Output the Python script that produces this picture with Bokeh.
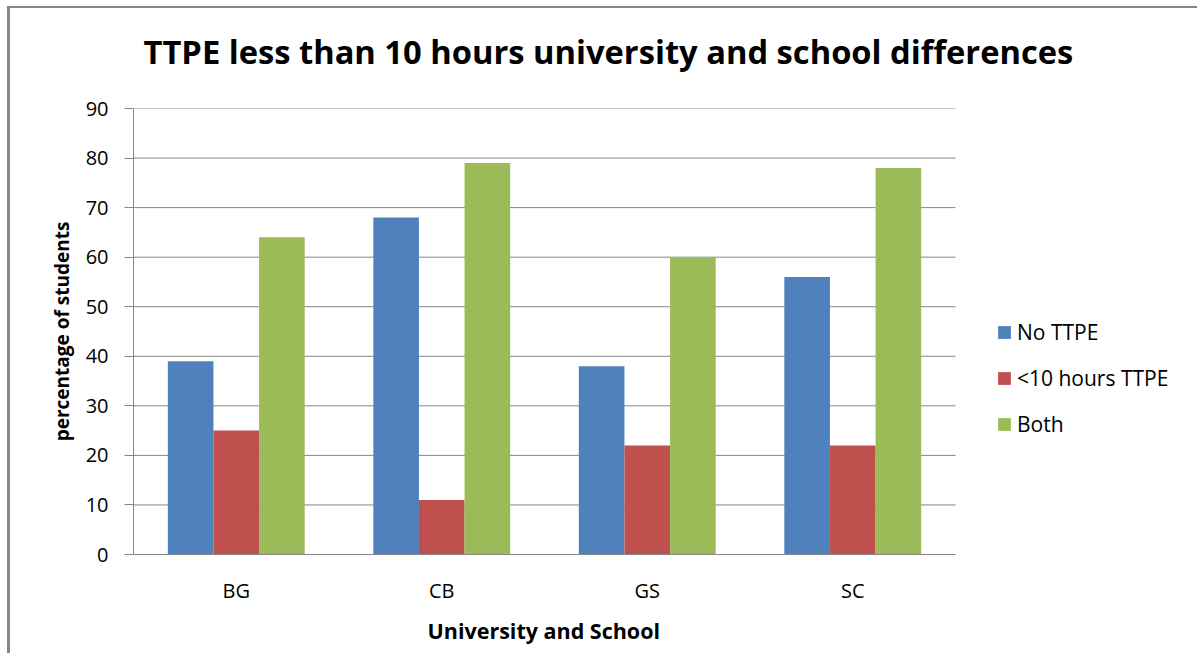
from bokeh.plotting import figure
from bokeh.models import Range1d, Legend, LegendItem, ColumnDataSource, FixedTicker, Title
from bokeh.embed import file_html
from bokeh.resources import INLINE

categories = ["BG", "CB", "GS", "SC"]
series_names = ["No TTPE", "<10 hours TTPE", "Both"]
no_ttpe = [39, 68, 38, 56]
under_10 = [25, 11, 22, 22]
both = [64, 79, 60, 78]
y_ticks = [0, 10, 20, 30, 40, 50, 60, 70, 80, 90]
colors = ["#4F81BD", "#C0504D", "#9BBB59"]
chart_title = "TTPE less than 10 hours university and school differences"

FONT = "Open Sans"
GRID = "#868686"

# outer box offset (border drawn with CSS)
OX, OY = 10, 8
W, H = 1190, 647
LEFT, TOP, RIGHT_EDGE, BOTTOM_EDGE = 133 - OX, 107 - OY, 955 - OX, 554 - OY
n = len(categories)
x_end = n * (W - LEFT) / (RIGHT_EDGE - LEFT)

centers = [i + 0.5 for i in range(n)]
bw = 0.222
src = ColumnDataSource(dict(
    xa=[c - bw for c in centers], xb=centers, xc=[c + bw for c in centers],
    a=no_ttpe, b=under_10, c=both))

p = figure(x_range=Range1d(0, x_end), y_range=Range1d(0, 90),
           width=W, height=H, output_backend="svg", toolbar_location=None,
           min_border_left=LEFT, min_border_right=0, min_border_top=TOP,
           min_border_bottom=H - BOTTOM_EDGE, title=None)
p.styles = {"margin-left": "7px", "margin-top": "6px",
            "border-left": "3px solid #868686", "border-top": "2px solid #868686"}

# horizontal gridlines only across the category area
p.segment(x0=0, x1=n, y0=y_ticks, y1=y_ticks, line_color=GRID, line_width=1)

r1 = p.vbar(x="xa", top="a", width=bw, source=src, color=colors[0], line_color=None)
r2 = p.vbar(x="xb", top="b", width=bw, source=src, color=colors[1], line_color=None)
r3 = p.vbar(x="xc", top="c", width=bw, source=src, color=colors[2], line_color=None)

# spacer between frame and title (closest to the frame)
p.add_layout(Title(text=" ", text_font_size="1px", standoff=14), "above")
p.add_layout(Title(text=chart_title, align="left", offset=10,
                   text_font=FONT, text_font_size="32.7px", text_font_style="bold",
                   text_color="black", standoff=36), "above")

p.outline_line_color = None
p.xgrid.grid_line_color = None
p.ygrid.grid_line_color = None

p.yaxis.ticker = FixedTicker(ticks=y_ticks)
p.yaxis.axis_line_color = GRID
p.yaxis.major_tick_line_color = GRID
p.yaxis.major_tick_out = 9
p.yaxis.major_tick_in = 0
p.yaxis.minor_tick_line_color = None
p.yaxis.major_label_text_font = FONT
p.yaxis.major_label_text_font_size = "20px"
p.yaxis.major_label_text_color = "black"
p.yaxis.major_label_standoff = 16
p.yaxis.axis_label = "percentage of students"
p.yaxis.axis_label_text_font = FONT
p.yaxis.axis_label_text_font_size = "19px"
p.yaxis.axis_label_text_font_style = "bold"
p.yaxis.axis_label_text_color = "black"
p.yaxis.axis_label_standoff = 8

p.xaxis.ticker = FixedTicker(ticks=centers)
p.xaxis.major_label_overrides = {c: lab for c, lab in zip(centers, categories)}
p.xaxis.bounds = (0, n)
p.xaxis.axis_line_color = GRID
p.xaxis.major_tick_line_color = None
p.xaxis.minor_tick_line_color = None
p.xaxis.major_label_text_font = FONT
p.xaxis.major_label_text_font_size = "20px"
p.xaxis.major_label_text_color = "black"
p.xaxis.major_label_standoff = 16

x_title = Title(text="University and School", align="left", offset=294,
                text_font=FONT, text_font_size="21.5px", text_font_style="bold",
                text_color="black", standoff=15)
p.add_layout(x_title, "below")

legend = Legend(items=[LegendItem(label=series_names[0], renderers=[r1]),
                       LegendItem(label=series_names[1], renderers=[r2]),
                       LegendItem(label=series_names[2], renderers=[r3])],
                location=(863, 116), padding=0, margin=0, border_line_color=None,
                background_fill_alpha=0, glyph_width=16, glyph_height=16,
                label_height=22, spacing=18, label_standoff=5,
                label_text_font=FONT, label_text_font_size="21px",
                label_text_color="black")
p.add_layout(legend, "center")

open("out.html", "w").write(file_html(p, INLINE))
